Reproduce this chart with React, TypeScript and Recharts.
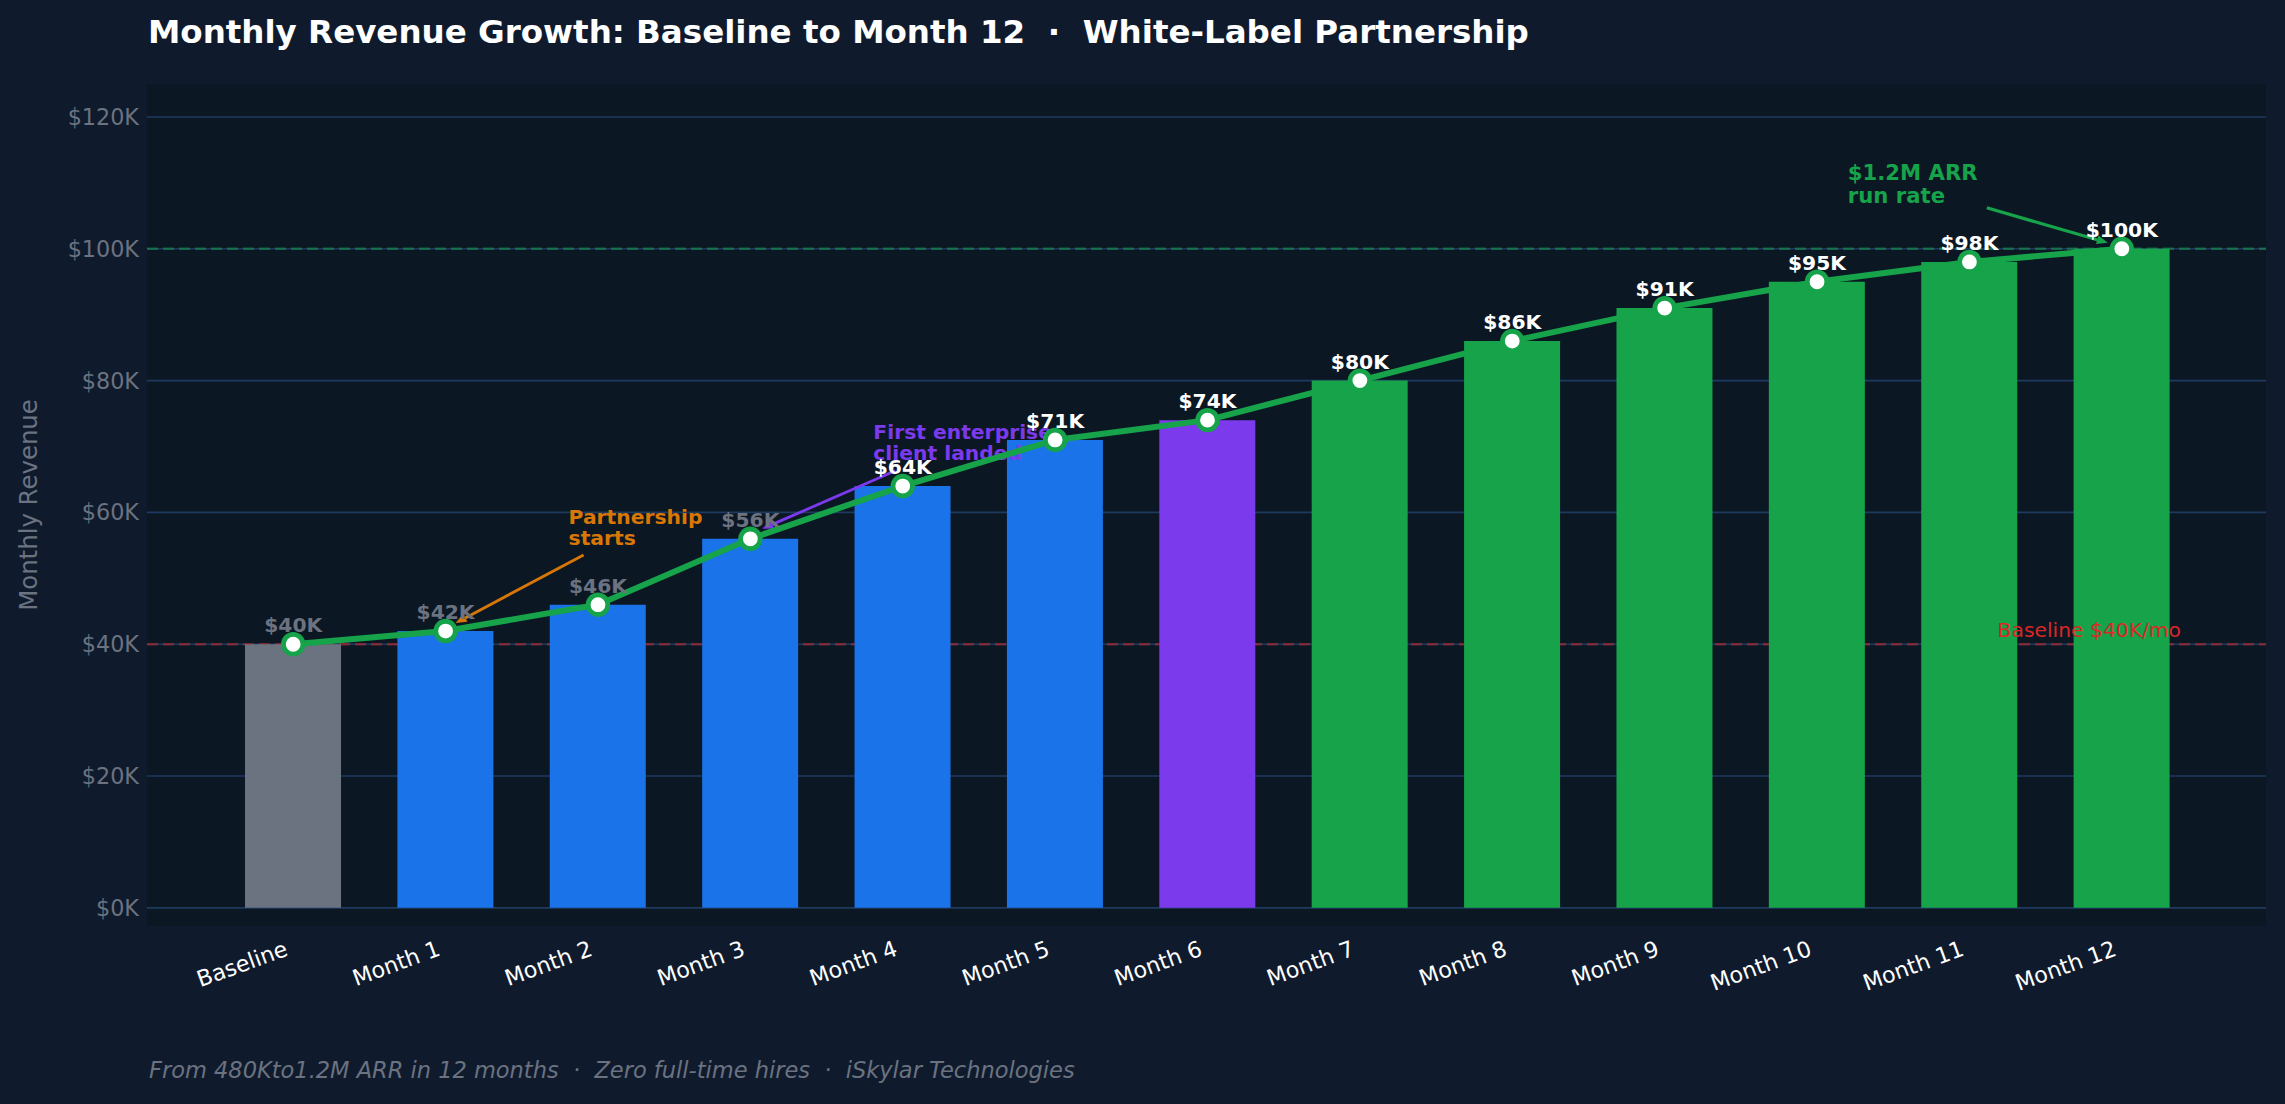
import React from 'react';
import {
  ComposedChart,
  Bar,
  Line,
  XAxis,
  YAxis,
  CartesianGrid,
  ReferenceLine,
  ReferenceDot,
  Cell,
} from 'recharts';

const months = [
  'Baseline', 'Month 1', 'Month 2', 'Month 3', 'Month 4', 'Month 5', 'Month 6',
  'Month 7', 'Month 8', 'Month 9', 'Month 10', 'Month 11', 'Month 12',
];
const revenue = [40000, 42000, 46000, 56000, 64000, 71000, 74000, 80000, 86000, 91000, 95000, 98000, 100000];
const barColors = [
  '#6b7280',
  '#1a73e8', '#1a73e8', '#1a73e8', '#1a73e8', '#1a73e8',
  '#7c3aed',
  '#16a34a', '#16a34a', '#16a34a', '#16a34a', '#16a34a', '#16a34a',
];
const labelColors = [
  '#6b7280', '#6b7280', '#6b7280', '#6b7280',
  '#ffffff', '#ffffff', '#ffffff', '#ffffff', '#ffffff', '#ffffff', '#ffffff', '#ffffff', '#ffffff',
];
const yTicks = [0, 20000, 40000, 60000, 80000, 100000, 120000];
const baselineRevenue = 40000;
const targetRevenue = 100000;

const noteMonths = ['Month 1', 'Month 3', 'Month 12'];
const noteValues = [42000, 56000, 100000];
const noteTexts = [['Partnership', 'starts'], ['First enterprise', 'client landed'], ['$1.2M ARR', 'run rate']];
const noteColors = ['#d97706', '#7c3aed', '#16a34a'];

// pixel offsets of text / arrow relative to the annotated point
const noteLayout = [
  { tx: 123, ty: [-107, -86], tail: [138, -76], head: [10, -8], size: 20.3, lw: 2.8 },
  { tx: 123, ty: [-100, -79], tail: [145, -68], head: [12, -10], size: 20.3, lw: 2.8 },
  { tx: -274, ty: [-69, -46], tail: [-135, -41], head: [-14, -6], size: 21.2, lw: 3.3 },
];

const data = months.map((month, i) => ({ month, revenue: revenue[i] }));

const fmtK = (v: number) => `$${Math.round(v / 1000)}K`;

function Note({ cx, cy, idx }: any) {
  const L = noteLayout[idx];
  const color = noteColors[idx];
  const x1 = cx + L.tail[0];
  const y1 = cy + L.tail[1];
  const x2 = cx + L.head[0];
  const y2 = cy + L.head[1];
  const ang = Math.atan2(y2 - y1, x2 - x1);
  const hl = 11;
  const hw = 4.5;
  const bx = x2 - hl * Math.cos(ang);
  const by = y2 - hl * Math.sin(ang);
  const px = -Math.sin(ang) * hw;
  const py = Math.cos(ang) * hw;
  return (
    <g>
      <line x1={x1} y1={y1} x2={bx} y2={by} stroke={color} strokeWidth={L.lw} />
      <polygon points={`${x2},${y2} ${bx + px},${by + py} ${bx - px},${by - py}`} fill={color} />
      {noteTexts[idx].map((t, k) => (
        <text key={k} x={cx + L.tx} y={cy + L.ty[k]} fill={color} fontSize={L.size} fontWeight="bold">
          {t}
        </text>
      ))}
    </g>
  );
}

function RevenueDot(props: any) {
  const { cx, cy, index } = props;
  return (
    <g key={`dot-${index}`}>
      <circle cx={cx} cy={cy} r={9.8} fill="#ffffff" stroke="#16a34a" strokeWidth={4.8} />
      <text x={cx} y={cy - 12} textAnchor="middle" fill={labelColors[index]} fontSize={20.3} fontWeight="bold">
        {fmtK(revenue[index])}
      </text>
    </g>
  );
}

function MonthTick({ x, y, payload }: any) {
  const tx = x - 4;
  const ty = y + 21;
  return (
    <text x={tx} y={ty} textAnchor="end" fill="#ffffff" fontSize={22.3} transform={`rotate(-20, ${tx}, ${ty})`}>
      {payload.value}
    </text>
  );
}

function BaselineLabel({ viewBox }: any) {
  return (
    <text x={viewBox.x + viewBox.width - 85} y={viewBox.y - 7.5} textAnchor="end" fill="#dc2626" fontSize={20.3}>
      Baseline $40K/mo
    </text>
  );
}

export default function App() {
  return (
    <div
      style={{
        position: 'absolute',
        left: 0,
        top: 0,
        width: 2285,
        height: 1104,
        background: '#0f1b2d',
        fontFamily: '"DejaVu Sans", sans-serif',
      }}
    >
      <ComposedChart
        width={2285}
        height={1104}
        data={data}
        margin={{ top: 84, right: 19, bottom: 118, left: 47 }}
      >
        <CartesianGrid
          vertical={false}
          syncWithTicks
          stroke="#1e3a5f"
          strokeWidth={1.6}
          fill="#0c1724"
          fillOpacity={1}
        />
        <XAxis
          dataKey="month"
          interval={0}
          axisLine={false}
          tickLine={false}
          height={60}
          padding={{ left: 70, right: 68 }}
          tick={<MonthTick />}
        />
        <YAxis
          type="number"
          domain={[-2750, 125000]}
          allowDataOverflow
          ticks={yTicks}
          tickFormatter={fmtK}
          axisLine={false}
          tickLine={false}
          width={100}
          tick={{ fill: '#6b7280', fontSize: 22.3 }}
        />
        <ReferenceLine
          y={targetRevenue}
          stroke="#16a34a"
          strokeOpacity={0.5}
          strokeWidth={2.4}
          strokeDasharray="11 5"
          zIndex={-50}
        />
        <ReferenceLine
          y={baselineRevenue}
          stroke="#dc2626"
          strokeOpacity={0.5}
          strokeWidth={2.4}
          strokeDasharray="11 5"
          zIndex={-50}
        />
        <Bar dataKey="revenue" barSize={96} isAnimationActive={false}>
          {data.map((d, i) => (
            <Cell key={d.month} fill={barColors[i]} />
          ))}
        </Bar>
        <ReferenceLine
          y={baselineRevenue}
          stroke="none"
          strokeOpacity={0}
          zIndex={350}
          label={<BaselineLabel />}
        />
        {noteMonths.map((m, i) => (
          <ReferenceDot
            key={m}
            x={m}
            y={noteValues[i]}
            r={0}
            zIndex={350}
            shape={(p: any) => <Note cx={p.cx} cy={p.cy} idx={i} />}
          />
        ))}
        <Line
          type="linear"
          dataKey="revenue"
          stroke="#16a34a"
          strokeWidth={6}
          dot={RevenueDot}
          activeDot={false}
          isAnimationActive={false}
        />
      </ComposedChart>
      <svg
        width={2285}
        height={1104}
        style={{ position: 'absolute', left: 0, top: 0, pointerEvents: 'none' }}
      >
        <text x={148} y={43} fill="#ffffff" fontSize={32.5} fontWeight="bold" xmlSpace="preserve" style={{ whiteSpace: 'pre' }}>
          {'Monthly Revenue Growth: Baseline to Month 12  ·  White-Label Partnership'}
        </text>
        <text
          x={28}
          y={505}
          fill="#6b7280"
          fontSize={24.4}
          textAnchor="middle"
          dominantBaseline="central"
          transform="rotate(-90, 28, 505)"
        >
          Monthly Revenue
        </text>
        <text x={149} y={1078} fill="#6b7280" fontSize={22.5} fontStyle="italic" xmlSpace="preserve" style={{ whiteSpace: 'pre' }}>
          {'From 480Kto1.2M ARR in 12 months  ·  Zero full-time hires  ·  iSkylar Technologies'}
        </text>
      </svg>
    </div>
  );
}
